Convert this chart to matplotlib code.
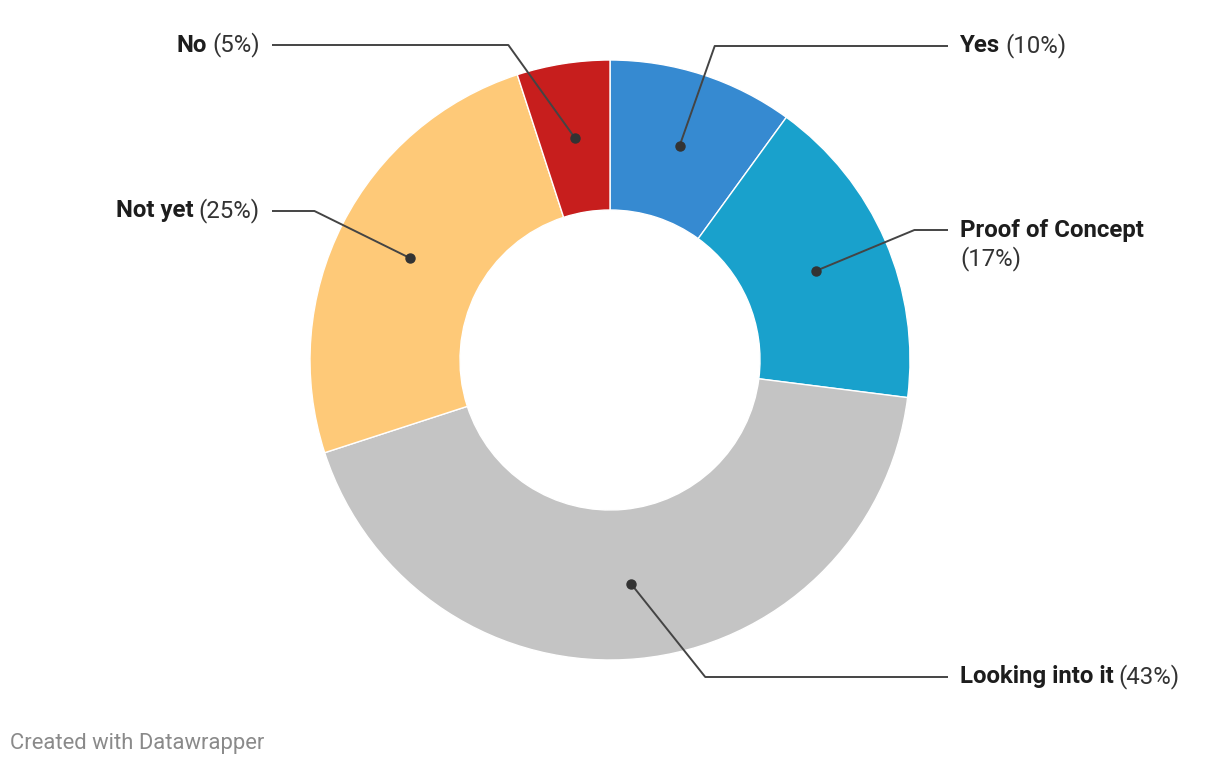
import numpy as np
import matplotlib.pyplot as plt

plt.rcParams["font.family"] = ["Roboto", "DejaVu Sans"]

labels = ["Yes", "Proof of Concept", "Looking into it", "Not yet", "No"]
values = [10, 17, 43, 25, 5]
colors = ["#368ad1", "#19a1cc", "#c4c4c4", "#fec978", "#c71e1d"]

# label layout (pixels from top), not data
label_y = [46, 230, 677, 211, 45]
wrap = [False, True, False, False, False]

W, H = 1220, 766
cx, cy = 610, H - 360
R_OUT, R_IN = 300, 150
R_DOT = (R_OUT + R_IN) / 2
R_ELBOW = 331

fig = plt.figure(figsize=(W / 100, H / 100), dpi=100)
ax = fig.add_axes([0, 0, 1, 1])

wedges, _ = ax.pie(values, colors=colors, startangle=90, counterclock=False,
                   radius=R_OUT, center=(cx, cy), frame=True,
                   wedgeprops=dict(width=R_OUT - R_IN, edgecolor="white", linewidth=1))

ax.set_xlim(0, W)
ax.set_ylim(0, H)
ax.set_aspect("equal")
ax.axis("off")

fig.canvas.draw()
renderer = fig.canvas.get_renderer()

line_col = "#444444"
txt_col = "#1d1d1d"
fs = 17.3

for w, lab, val, ly, wr in zip(wedges, labels, values, label_y, wrap):
    mid = np.deg2rad((w.theta1 + w.theta2) / 2)
    dx, dy = np.cos(mid), np.sin(mid)
    px, py = cx + R_DOT * dx, cy + R_DOT * dy
    yy = H - ly
    ey = yy - cy
    ex = np.sign(dx) * np.sqrt(max(R_ELBOW ** 2 - ey ** 2, 0))
    right = dx > 0
    end_x = 948 if right else 272
    ax.plot([px, cx + ex, end_x], [py, yy, yy], color=line_col, lw=1.4,
            solid_capstyle="butt", zorder=3)
    ax.plot(px, py, "o", color="#333333", ms=6.5, zorder=4)

    pct = f"({val}%)"
    if right:
        t = ax.text(960, yy, lab, fontsize=fs, fontweight="bold", color=txt_col,
                    ha="left", va="center")
        if wr:
            ax.text(960, yy - 29, pct, fontsize=fs, color="#333333",
                    ha="left", va="center")
        else:
            bb = t.get_window_extent(renderer)
            ax.text(bb.x1 + 5, yy, pct, fontsize=fs, color="#333333",
                    ha="left", va="center")
    else:
        t = ax.text(260, yy, pct, fontsize=fs, color="#333333",
                    ha="right", va="center")
        bb = t.get_window_extent(renderer)
        ax.text(bb.x0 - 5, yy, lab, fontsize=fs, fontweight="bold",
                color=txt_col, ha="right", va="center")

ax.text(10, H - 743, "Created with Datawrapper", fontsize=15.8, color="#8a8a8a",
        ha="left", va="center")

fig.savefig("out.png", dpi=100)
